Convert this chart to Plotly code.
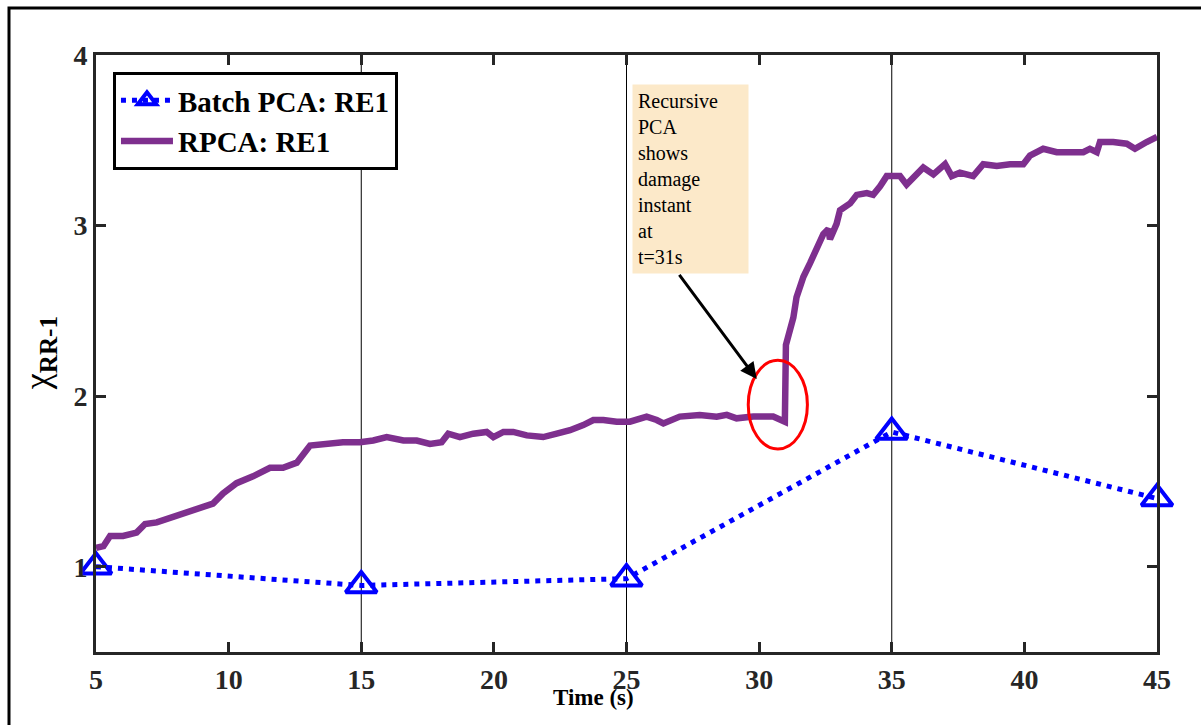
import plotly.graph_objects as go

# Batch PCA damage index, evaluated every 10 s
batch_t = [5, 15, 25, 35, 45]
batch_v = [1.00, 0.89, 0.93, 1.79, 1.40]

# Recursive PCA damage index (continuous update)
rpca_t = [5.0, 5.28, 5.53, 6.02, 6.53, 6.85, 7.29, 7.90, 8.42, 8.92, 9.41, 9.79,
          10.30, 10.92, 11.56, 12.05, 12.57, 13.07, 13.56, 14.31, 14.95, 15.45,
          15.96, 16.59, 17.09, 17.59, 18.03, 18.28, 18.72, 19.22, 19.73, 19.98,
          20.36, 20.73, 21.24, 21.86, 22.37, 22.87, 23.37, 23.75, 24.13, 24.63,
          25.13, 25.76, 26.14, 26.39, 27.01, 27.76, 28.40, 28.78, 29.15, 29.78,
          30.53, 30.91, 30.97, 31.01, 31.10, 31.29, 31.41, 31.67, 31.92, 32.17,
          32.42, 32.61, 32.67, 32.92, 33.05, 33.43, 33.68, 34.06, 34.30, 34.56,
          34.81, 35.06, 35.31, 35.56, 35.81, 36.06, 36.19, 36.57, 37.01, 37.26,
          37.57, 38.07, 38.45, 38.96, 39.46, 39.96, 40.21, 40.71, 41.22, 41.84,
          42.22, 42.47, 42.73, 42.85, 43.35, 43.86, 44.17, 44.61, 45.0]
rpca_v = [1.11, 1.12, 1.18, 1.18, 1.20, 1.25, 1.26, 1.29, 1.32, 1.35, 1.37, 1.43,
          1.49, 1.53, 1.58, 1.58, 1.61, 1.71, 1.72, 1.73, 1.73, 1.74,
          1.76, 1.74, 1.74, 1.72, 1.73, 1.78, 1.76, 1.78, 1.79, 1.76,
          1.79, 1.79, 1.77, 1.76, 1.78, 1.80, 1.83, 1.86, 1.86, 1.85,
          1.85, 1.88, 1.86, 1.84, 1.88, 1.89, 1.88, 1.89, 1.87, 1.88,
          1.88, 1.86, 1.85, 2.30, 2.35, 2.46, 2.58, 2.70, 2.78, 2.86,
          2.95, 2.98, 2.92, 3.01, 3.09, 3.13, 3.18, 3.19, 3.18, 3.23,
          3.29, 3.29, 3.29, 3.24, 3.28, 3.33, 3.34, 3.30, 3.36, 3.29,
          3.31, 3.29, 3.36, 3.35, 3.36, 3.36, 3.41, 3.45, 3.43, 3.43,
          3.43, 3.45, 3.43, 3.49, 3.49, 3.48, 3.45, 3.49, 3.52]

x_ticks = [5, 10, 15, 20, 25, 30, 35, 40, 45]
y_ticks = [1, 2, 3, 4]
divider_t = [15, 25, 35]

note_text = "Recursive<br>PCA<br>shows<br>damage<br>instant<br>at<br>t=31s"

SERIF = "Liberation Serif, Times New Roman, serif"
AXIS_COLOR = "#262626"

fig = go.Figure()

fig.add_trace(go.Scatter(
    x=batch_t, y=batch_v, mode="lines+markers", name="<b>Batch PCA: RE1</b>",
    line=dict(color="#0000FF", width=5, dash="5px,6px"),
    marker=dict(symbol="triangle-up-open", size=27, color="#0000FF",
                line=dict(width=4, color="#0000FF")),
    cliponaxis=False,
))

fig.add_trace(go.Scatter(
    x=rpca_t, y=rpca_v, mode="lines", name="<b>RPCA: RE1</b>",
    line=dict(color="#7E2F8E", width=6.5),
))

# thin vertical dividers
for t in divider_t:
    fig.add_shape(type="line", xref="x", yref="paper", x0=t, x1=t, y0=0, y1=1,
                  line=dict(color="black", width=1), layer="below")

# highlight around the jump
fig.add_shape(type="circle", xref="x", yref="y", x0=29.59, x1=31.82, y0=1.69, y1=2.21,
              line=dict(color="#FF0000", width=3))

# outer frame
fig.add_shape(type="rect", xref="paper", yref="paper", x0=-0.082, x1=1.3, y0=-0.3, y1=1.0787,
              line=dict(color="black", width=3))

# note box
fig.add_annotation(
    x=27.41, y=3.272, xref="x", yref="y", text=note_text, showarrow=False,
    align="left", bgcolor="#FCE9C9", width=105, height=178, borderpad=5,
    font=dict(family=SERIF, size=20, color="black"),
)
# arrow from note box to the jump
fig.add_annotation(
    x=29.91, y=2.10, ax=26.95, ay=2.72, xref="x", yref="y", axref="x", ayref="y",
    text="", showarrow=True, arrowhead=2, arrowsize=1.1, arrowwidth=3,
    arrowcolor="black",
)

# axis titles
fig.add_annotation(
    x=0.469, y=-0.077, xref="paper", yref="paper", xanchor="center", yanchor="middle",
    text="<b>Time (s)</b>", showarrow=False,
    font=dict(family=SERIF, size=23, color="black"),
)
fig.add_annotation(
    x=-0.053, y=0.50, xref="paper", yref="paper", xanchor="center", yanchor="middle",
    textangle=-90, text="χ<sub><b>RR-1</b></sub>", showarrow=False,
    font=dict(family=SERIF, size=36, color="black"),
)

fig.update_xaxes(
    range=[5, 45], tickvals=x_ticks, ticktext=[f"<b>{v}</b>" for v in x_ticks],
    showgrid=False, zeroline=False, showline=True, mirror="ticks",
    linecolor=AXIS_COLOR, linewidth=3, ticks="inside", ticklen=10, tickwidth=3,
    tickcolor=AXIS_COLOR, tickfont=dict(family=SERIF, size=28, color=AXIS_COLOR),
)
fig.update_yaxes(
    range=[0.5, 4], tickvals=y_ticks, ticktext=[f"<b>{v}</b>" for v in y_ticks],
    showgrid=False, zeroline=False, showline=True, mirror="ticks",
    linecolor=AXIS_COLOR, linewidth=3, ticks="inside", ticklen=10, tickwidth=3,
    tickcolor=AXIS_COLOR, tickfont=dict(family=SERIF, size=28, color=AXIS_COLOR),
)

fig.update_layout(
    width=1201, height=725,
    margin=dict(l=96, r=44, t=55, b=73),
    paper_bgcolor="white", plot_bgcolor="white",
    showlegend=True,
    legend=dict(
        x=0.016, y=0.9715, xanchor="left", yanchor="top",
        bgcolor="white", bordercolor="black", borderwidth=3,
        font=dict(family=SERIF, size=29, color="black"),
        tracegroupgap=0, itemwidth=52,
    ),
)

fig.write_html("out.html")
